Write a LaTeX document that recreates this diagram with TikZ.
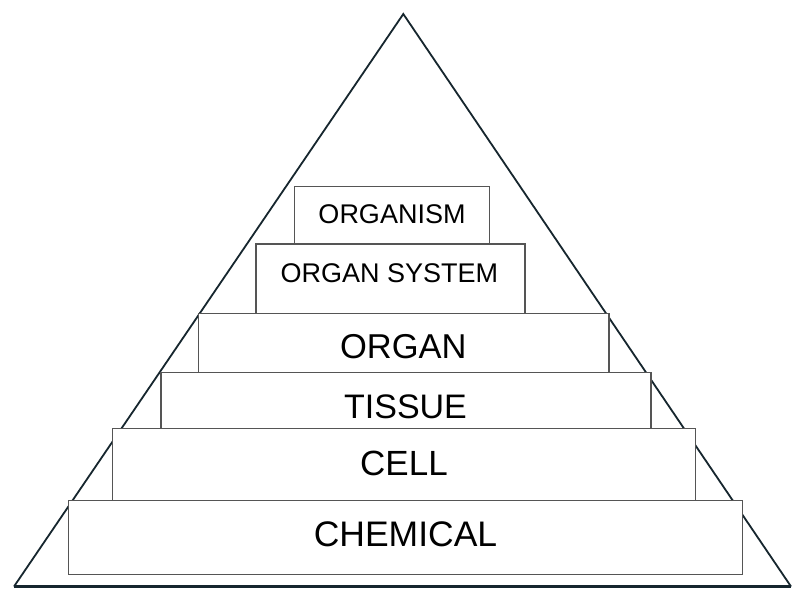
\documentclass[tikz,border=0pt]{standalone}
\usepackage{fontspec}
\setmainfont{Liberation Sans}
\definecolor{triline}{RGB}{22,38,46}
\definecolor{boxline}{RGB}{85,85,85}
\begin{document}
\begin{tikzpicture}[x=1pt,y=-1pt,
  tri/.style={draw=triline,line width=1.8pt,line join=miter},
  box/.style={draw=boxline,fill=white,line width=1.3pt,rectangle,inner sep=0pt,outer sep=0pt},
  lbl/.style={anchor=base,inner sep=0pt,text=black}]
\useasboundingbox[fill=white] (0,0) rectangle (792,598);
\coordinate (apex) at (403.3,14);
\coordinate (bl) at (14,586.5);
\coordinate (br) at (791,586.5);
\draw[tri] (bl) -- (apex) -- (br);
\draw[draw=triline,line width=2.6pt] (bl) -- (br);
% boxes
\node[box,minimum width=674.4pt,minimum height=74pt] (chem) at (405.5,537.7) {};
\node[box,minimum width=583pt,minimum height=72pt] (cell) at (403.8,464.8) {};
\node[box,minimum width=490pt,minimum height=56.4pt] (tissue) at (406,400.5) {};
\node[box,minimum width=410.3pt,minimum height=59pt] (organ) at (403.8,342.8) {};
\node[box,minimum width=269pt,minimum height=69.3pt] (system) at (390.5,278.6) {};
\node[box,minimum width=195pt,minimum height=57.7pt] (organism) at (391.8,215.2) {};
% labels
\node[lbl,font=\fontsize{35.5}{40}\selectfont] (tchem) at (405.5,546.7) {CHEMICAL};
\node[lbl,font=\fontsize{35}{40}\selectfont] (tcell) at (404,475) {CELL};
\node[lbl,font=\fontsize{34}{40}\selectfont] (ttissue) at (405.5,418.3) {TISSUE};
\node[lbl,font=\fontsize{34.5}{40}\selectfont] (torgan) at (403.3,358.3) {ORGAN};
\node[lbl,font=\fontsize{27}{32}\selectfont] (tsystem) at (389.3,282.7) {ORGAN SYSTEM};
\node[lbl,font=\fontsize{27}{32}\selectfont] (torganism) at (392,223.3) {ORGANISM};
\end{tikzpicture}
\end{document}
